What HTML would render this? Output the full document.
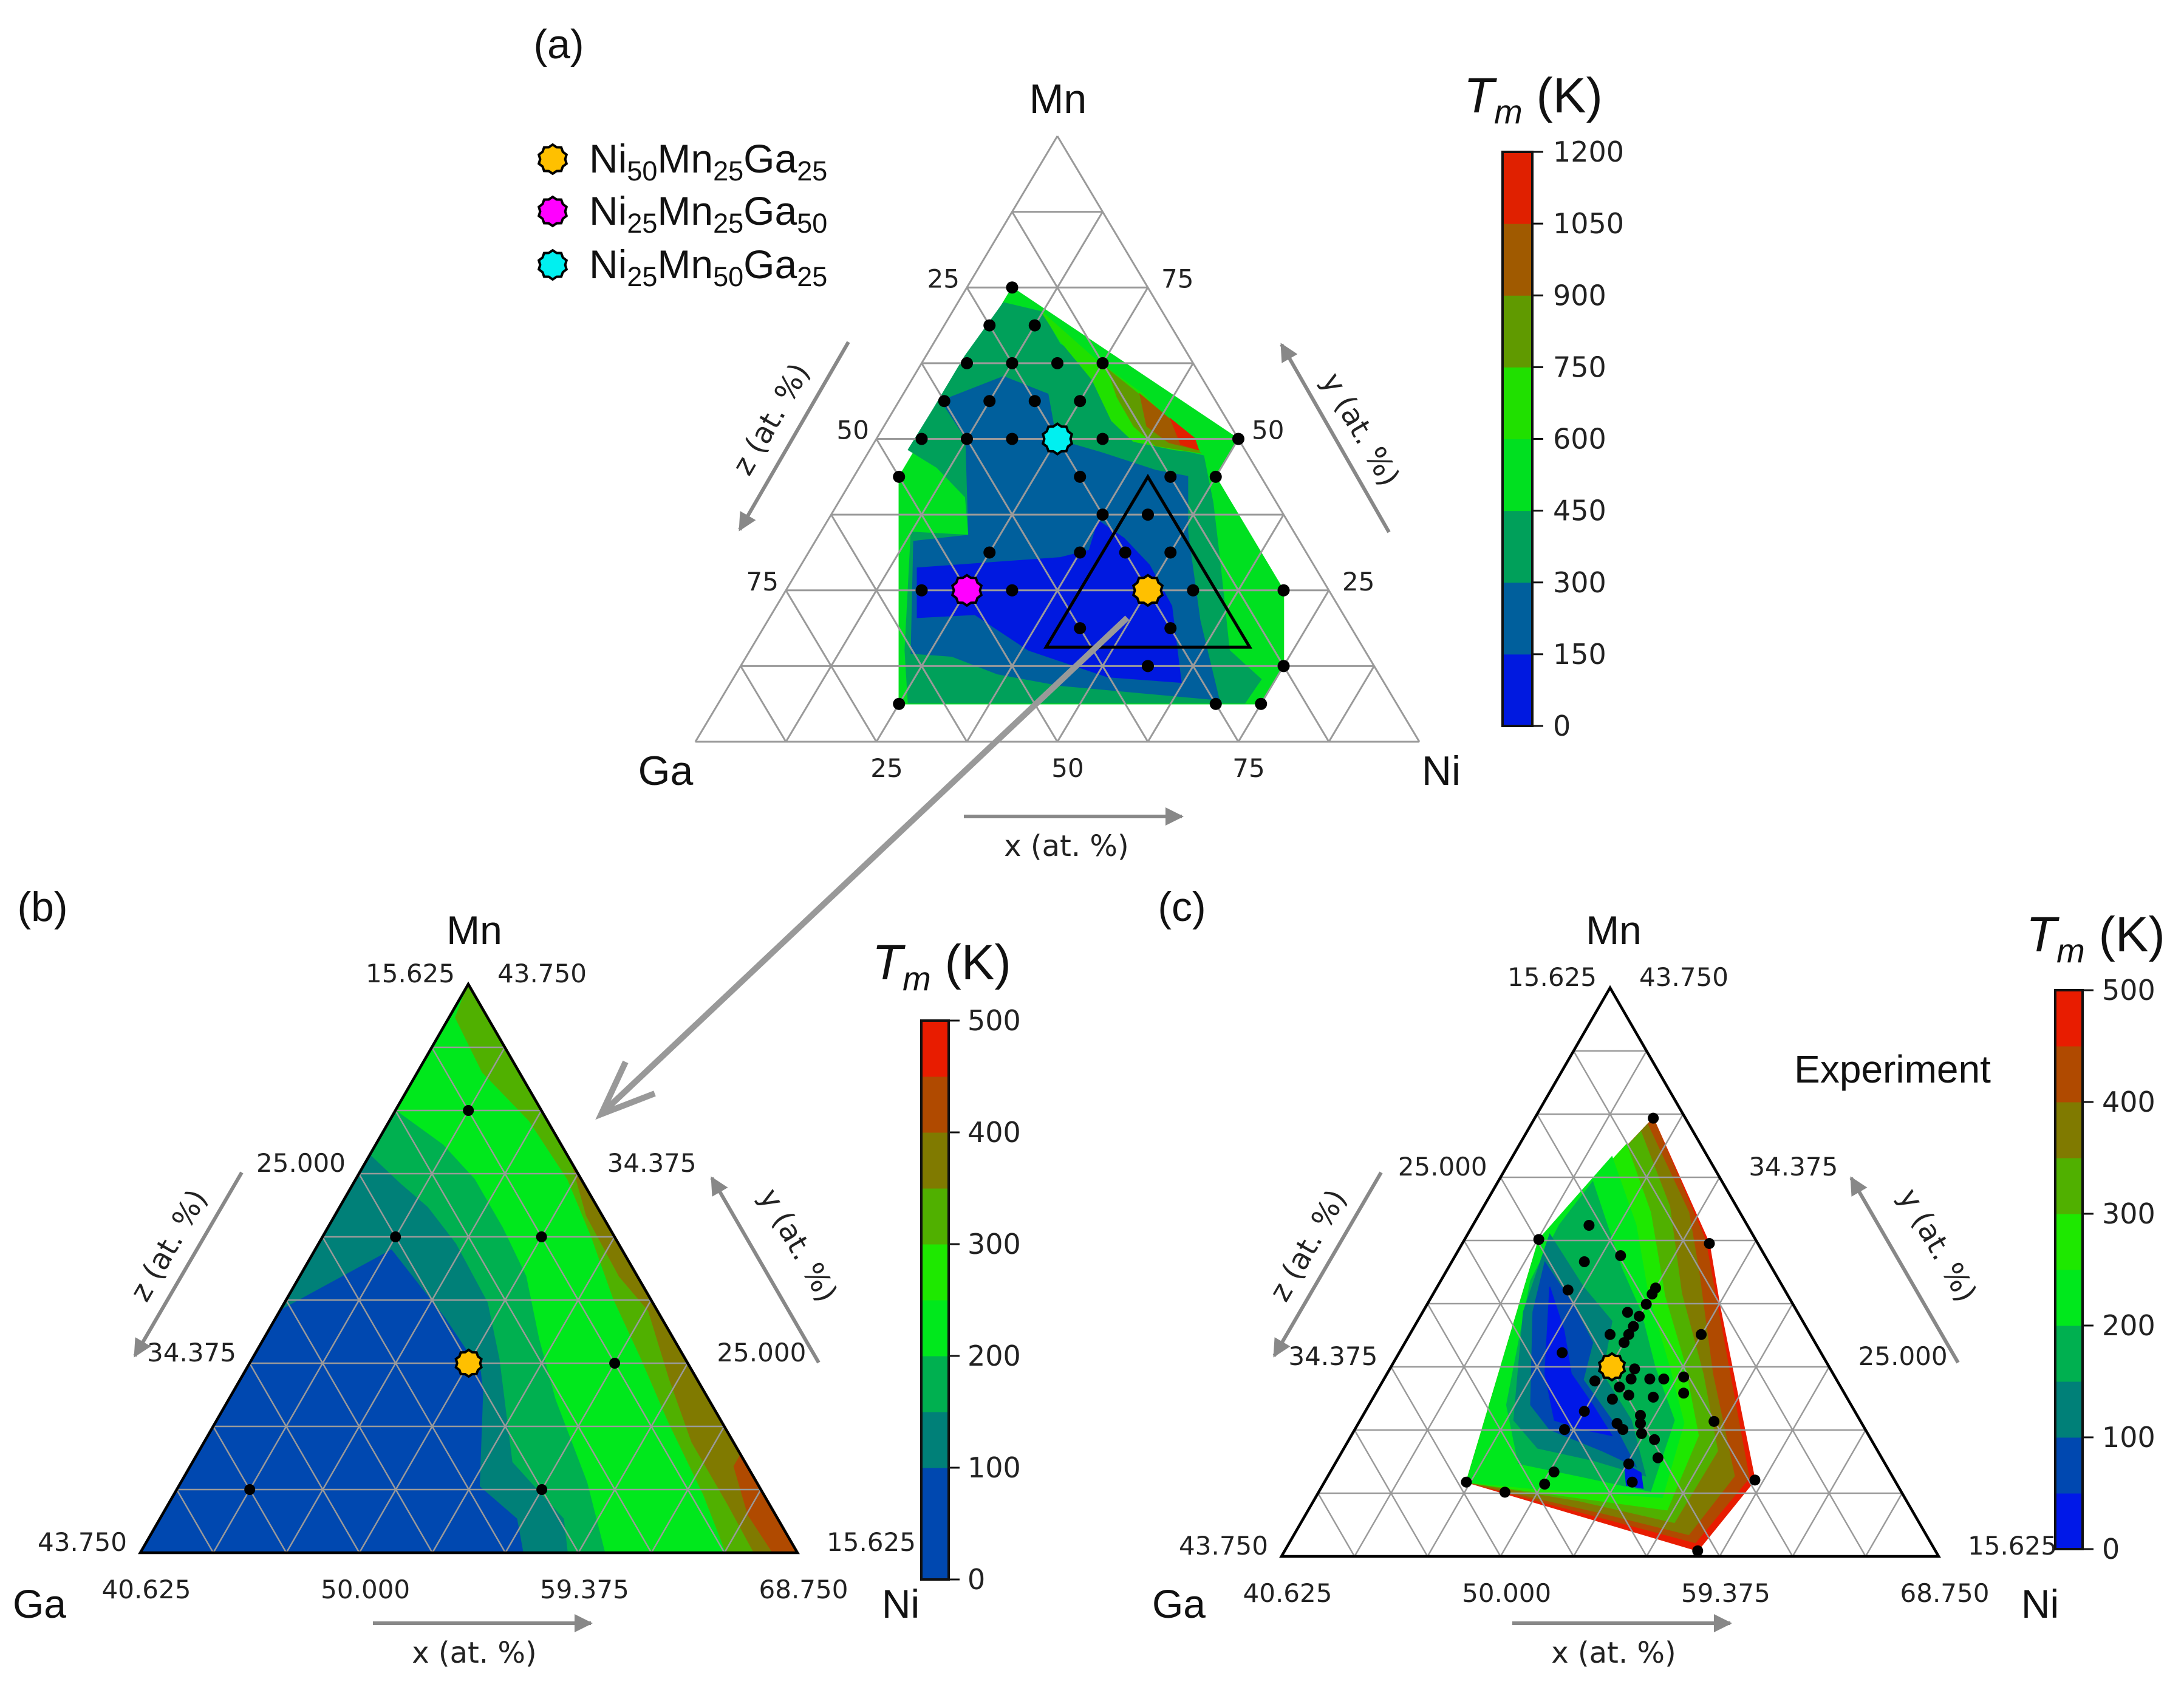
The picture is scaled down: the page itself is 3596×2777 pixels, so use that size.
<!DOCTYPE html>
<html><head><meta charset="utf-8"><style>
html,body{margin:0;padding:0;background:#fff;}
svg{display:block;}
.tk{font-family:"DejaVu Sans","Liberation Sans",sans-serif;fill:#222;}
.lb{font-family:"Liberation Sans","DejaVu Sans",sans-serif;fill:#111;}
</style></head><body>
<svg id="fig" xmlns="http://www.w3.org/2000/svg" width="3596" height="2777" viewBox="0 0 3596 2777">
<defs>
<marker id="ah" viewBox="0 0 10 10" refX="9" refY="5" markerWidth="5" markerHeight="5" orient="auto"><path d="M0,0 L10,5 L0,10 z" fill="#888"/></marker>
</defs>
</svg>
<script>
// ---------- DATA ----------
const aLevels = [0,150,300,450,600,750,900,1050,1200];
const aColors = ['#0019e0','#005f9c','#00a05a','#00e020','#20e000','#609a00','#a05a00','#e02000'];
const bcLevels = [0,50,100,150,200,250,300,350,400,450,500];
const bColors = ['#0048b0','#0048b0','#008078','#00b050','#00e81c','#1ee800','#50b000','#807a00','#b04a00','#e81c00'];
const cColors = ['#0018e8','#0048b0','#008078','#00b050','#00e81c','#1ee800','#50b000','#807a00','#b04a00','#e81c00'];
const aTickVals = [25,50,75];
const aTickLabels = ['25','50','75'];
const bcBottomVals = [40.625,50,59.375,68.75];
const bcBottomLabels = ['40.625','50.000','59.375','68.750'];
const bcLeftVals = [15.625,25,34.375,43.75];
const bcLeftLabels = ['15.625','25.000','34.375','43.750'];
const bcRightVals = [43.75,34.375,25,15.625];
const bcRightLabels = ['43.750','34.375','25.000','15.625'];
const aCbTicks = ['0','150','300','450','600','750','900','1050','1200'];
const bcCbTicks = ['0','100','200','300','400','500'];

// panel (a) dots: [Ni, Mn]
const aDots = [[6.25,75],[6.25,68.75],[12.5,68.75],[6.25,62.5],[12.5,62.5],[18.75,62.5],[25,62.5],
[6.25,56.25],[12.5,56.25],[18.75,56.25],[25,56.25],[6.25,50],[12.5,50],[18.75,50],[31.25,50],[50,50],
[6.25,43.75],[31.25,43.75],[43.75,43.75],[50,43.75],[37.5,37.5],[43.75,37.5],[25,31.25],[37.5,31.25],
[43.75,31.25],[50,31.25],[18.75,25],[31.25,25],[56.25,25],[68.75,25],[43.75,18.75],[56.25,18.75],
[56.25,12.5],[75,12.5],[25,6.25],[68.75,6.25],[75,6.25]];
const aSpecialNi = [50,25,25];
const aSpecialMn = [25,25,50];
const specialColors = ['#ffc000','#ff00ff','#00f0f0'];
const aContourLevels = [3,2,1,0,4,5,6,7];
const aContours = [
 [[6.25,75],[50,50],[50,43.75],[68.75,25],[75,12.5],[75,6.25],[25,6.25],[6.25,43.75]],
 [[6.3,72.5],[12.3,71.0],[17.5,65.7],[23.6,62.3],[28.6,55.9],[33.7,51.1],[39,49.1],[46.6,47.2],[51.8,39.4],[57.6,29.7],[66.2,15.1],[73,10.3],[72.7,6.4],[26.2,6.4],[21.4,15.1],[12.5,34.6],[20.7,34.1],[17.1,40.4],[10.7,45.3],[5.3,48.2],[5.4,55],[5.4,63.7]],
 [[6,56.4],[12.4,60.3],[20,57.4],[24.1,51.1],[27.6,49.1],[32.3,47.7],[41.2,44.8],[46.1,43.8],[50.7,34.6],[59.7,20],[68.9,6.9],[45.7,9.3],[36.1,11.2],[28.4,14.1],[22.5,14.6],[13.6,33.1],[20.7,34.1],[12.3,50.1],[6.2,55.9]],
 [[16.3,28.7],[35.2,30.4],[38.6,31.6],[37.4,36.5],[42.4,33.6],[48.1,29.2],[54.6,22.4],[62.2,9.8],[51.6,10.7],[38.5,15.1],[28.1,21],[20.4,20.5]],
 [[12.3,71.0],[24.3,62.7],[33.1,57.4],[45.9,47.7],[42.1,48.2],[35.7,49.6],[31,53],[24.9,59.8],[17.3,66.2]],
 [[26.2,61.5],[33.3,56.9],[45.9,47.7],[39.1,48.9],[34.5,52.1],[29.8,56.9]],
 [[32.7,57.4],[39.3,53],[45.4,48.2],[40.7,49.4],[36.3,52.1]],
 [[39,53.3],[43.9,50.1],[45.4,48.2],[42.5,49.1]]
];
const subTri = [[40.625,43.75],[40.625,15.625],[68.75,15.625]];

// panel (b)
const bDots = [[43.75,37.5],[43.75,31.25],[50,31.25],[56.25,25],[43.75,18.75],[56.25,18.75]];
const bSpecialNi = [50];
const bSpecialMn = [25];
const bContourLevels = [3,2,0,6,7,8];
const bContours = [
 [[40.625,37.5],[43.5,35.8],[45.7,34.1],[48.1,31.7],[50.3,29.3],[52.4,26.2],[54.6,23.2],[58.0,19.1],[60.5,15.625],[40.625,15.625]],
 [[40.625,35.3],[42.6,33.9],[44.4,32.7],[46.5,30.9],[49.3,28.0],[51.2,25.2],[54.3,20.1],[57.9,17.3],[58.9,15.625],[40.625,15.625]],
 [[40.625,27.6],[43.9,30.6],[47.9,27.2],[50.7,24.6],[51.3,23.6],[53.5,18.9],[55.9,17.3],[57.0,15.625],[40.625,15.625]],
 [[40.625,43.75],[40.9,42.1],[43.4,39.4],[46.6,37.0],[49.7,34.1],[52.1,31.3],[54.6,28.2],[57.3,25.2],[60.0,22.1],[63.3,18.5],[65.7,15.625],[68.75,15.625]],
 [[49.4,35.0],[51.4,32.3],[54.3,29.3],[56.4,27.6],[59.0,24.2],[61.5,21.1],[64.5,18.1],[66.9,15.625],[68.75,15.625]],
 [[63.9,20.5],[63.9,19.9],[65.7,17.5],[67.7,15.625],[68.75,15.625]]
];

// panel (c)
const cDots = [[45.7,37.3],[45.6,32.0],[43.8,31.3],[51.2,31.1],[47.7,30.5],[46.3,30.2],[46.3,28.8],[50.0,28.9],
[50.0,28.6],[50.0,28.1],[49.4,27.7],[50.0,27.5],[50.0,27.0],[49.2,26.6],[50.0,26.6],[53.1,26.6],[50.0,26.2],
[47.6,25.7],[51.1,24.9],[49.7,24.3],[51.2,24.4],[52.0,24.4],[52.6,24.4],[53.4,24.5],[50.9,24.0],[51.5,23.6],
[52.6,23.5],[53.8,23.7],[50.9,23.4],[50.0,22.8],[52.5,22.6],[55.8,22.3],[51.7,22.2],[52.7,22.2],[52.1,21.9],
[49.6,21.9],[53.0,21.7],[53.7,21.4],[54.3,20.5],[53.2,20.2],[50.2,19.8],[53.8,19.3],[50.1,19.2],[46.7,19.3],
[48.6,18.8],[59.0,19.4],[58.3,15.9]];
const cSpecialNi = [50.08];
const cSpecialMn = [25.0];
const cContourLevels = [9,8,7,6,5,4,3,2,1,0,0];
const cContours = [
 [[45.7,37.3],[51.2,31.1],[53.2,28.0],[59.0,19.4],[58.3,15.9],[46.7,19.3],[43.8,31.3]],
 [[45.7,37.3],[50.95,31.26],[52.9,28.3],[58.7,19.5],[58.0,16.3],[53.65,17.46],[46.7,19.3],[43.8,31.3]],
 [[45.6,37.0],[49.55,32.64],[51.34,29.88],[54.56,24.66],[58.02,19.6],[57.52,16.7],[53.29,17.76],[46.7,19.3],[43.8,31.3]],
 [[45.51,36.62],[48.58,32.94],[51.24,28.64],[54.15,24.66],[56.68,20.84],[56.6,17.3],[51.96,18.38],[46.7,19.3],[43.8,31.3]],
 [[45.2,36.0],[47.91,32.64],[50.59,28.5],[53.02,25.28],[55.48,21.6],[55.98,17.92],[50.78,18.68],[46.7,19.3],[43.8,31.3]],
 [[44.88,35.4],[47.6,32.02],[49.8,28.64],[52.57,24.96],[54.55,22.22],[55.47,18.54],[49.6,18.99],[46.7,19.3],[43.8,31.3]],
 [[44.68,34.16],[48.05,29.88],[49.96,27.72],[51.95,24.96],[54.07,22.36],[54.81,18.84],[51.35,19.6],[48.47,20.22],[46.51,23.12],[44.47,29.26],[44.32,32.02]],
 [[44.14,31.56],[46.87,28.96],[48.95,27.26],[49.84,24.66],[52.23,22.36],[54.22,19.6],[51.57,20.38],[48.91,20.98],[47.2,22.36],[44.93,27.72]],
 [[44.62,30.18],[46.92,28.04],[48.66,26.2],[49.17,24.36],[51.4,22.36],[53.58,20.06],[51.75,20.84],[48.97,21.9],[47.54,23.12],[45.34,27.72]],
 [[45.44,28.96],[47.13,26.8],[48.51,24.66],[50.2,23.12],[51.78,21.6],[50.4,21.9],[48.94,22.36],[47.38,24.66]],
 [[53.0,20.22],[53.94,19.76],[54.42,18.99],[53.63,19.14]]
];

// ---------- RENDER ----------
const svg = document.getElementById('fig');
const NS = 'http://www.w3.org/2000/svg';
function mk(tag, attrs, parent) {
  const e = document.createElementNS(NS, tag);
  for (const k in attrs) e.setAttribute(k, attrs[k]);
  (parent || svg).appendChild(e);
  return e;
}
function makeAxes(P) {
  const fp = (g, f) => [P.ga[0] + g*(P.ni[0]-P.ga[0]) + f*(P.mn[0]-P.ga[0]), P.ga[1] + g*(P.ni[1]-P.ga[1]) + f*(P.mn[1]-P.ga[1])];
  const t = (ni, mn) => fp((ni-P.ni0)/P.span, (mn-P.mn0)/P.span);
  return {fp, t};
}
const PA = {ga:[1145,1221], ni:[2337,1221], mn:[1741,224], ni0:0, mn0:0, span:100, n:8};
const PB = {ga:[231,2556], ni:[1313,2556], mn:[771,1620], ni0:40.625, mn0:15.625, span:28.125, n:9};
const PC = {ga:[2110,2562], ni:[3192,2562], mn:[2651,1626], ni0:40.625, mn0:15.625, span:28.125, n:9};
const AX = {a: makeAxes(PA), b: makeAxes(PB), c: makeAxes(PC)};

function ptsStr(arr, ax) { return arr.map(p => ax.t(p[0], p[1]).map(v => v.toFixed(1)).join(',')).join(' '); }

function drawContours(g, ax, contours, levels, colors, name) {
  contours.forEach((poly, i) => {
    const e = mk('polygon', {points: ptsStr(poly, ax), fill: colors[levels[i]], stroke: colors[levels[i]], 'stroke-width': 1.5}, g);
    
    
  });
}
function drawGrid(g, ax, n, width, border) {
  const i0 = border ? 0 : 1;
  for (let i = i0; i < n; i++) {
    const s = i / n;
    const segs = [[ax.fp(0, s), ax.fp(1-s, s)], [ax.fp(s, 0), ax.fp(s, 1-s)], [ax.fp(1-s, 0), ax.fp(0, 1-s)]];
    segs.forEach(sg => {
      const e = mk('line', {x1: sg[0][0], y1: sg[0][1], x2: sg[1][0], y2: sg[1][1], stroke: '#9a9a9a', 'stroke-width': width}, g);
      
      
    });
  }
}
function drawDots(g, ax, dots, r) {
  dots.forEach(d => {
    const p = ax.t(d[0], d[1]);
    const e = mk('circle', {cx: p[0], cy: p[1], r: r, fill: '#000'}, g);
    
    
  });
}
function starPts(cx, cy, r) {
  const pts = [];
  for (let k = 0; k < 20; k++) {
    const rr = (k % 2 === 0) ? r : r*0.86;
    const a = Math.PI*2*k/20 - Math.PI/2;
    pts.push((cx + rr*Math.cos(a)).toFixed(1) + ',' + (cy + rr*Math.sin(a)).toFixed(1));
  }
  return pts.join(' ');
}
function drawSpecial(g, ax, nis, mns, colors, r) {
  nis.forEach((ni, i) => {
    const p = ax.t(ni, mns[i]);
    const e = mk('polygon', {points: starPts(p[0], p[1], r), fill: colors[i], stroke: '#000', 'stroke-width': 4}, g);
    
    
  });
}
function text(g, x, y, s, cls, size, anchor, name, extra) {
  const e = mk('text', Object.assign({x: x, y: y, class: cls, 'font-size': size, 'text-anchor': anchor || 'middle'}, extra || {}), g);
  e.textContent = s;
  
  
  return e;
}
function arrowLine(g, x1, y1, x2, y2, name) {
  const e = mk('line', {x1, y1, x2, y2, stroke: '#888', 'stroke-width': 6, 'marker-end': 'url(#ah)'}, g);
  
  
}
function colorbar(g, x, y0, y1, w, colors, tickLabels, lx, name) {
  const nb = colors.length, h = (y1 - y0) / nb;
  colors.forEach((c, i) => {
    const e = mk('rect', {x: x, y: y1 - (i+1)*h, width: w, height: h + 0.5, fill: c}, g);
    
    
  });
  const fr = mk('rect', {x: x, y: y0, width: w, height: y1 - y0, fill: 'none', stroke: '#111', 'stroke-width': 4}, g);
  
  
  const nt = tickLabels.length - 1;
  tickLabels.forEach((s, i) => {
    const yy = y1 - i*(y1 - y0)/nt;
    const tl = mk('line', {x1: x + w, y1: yy, x2: x + w + 18, y2: yy, stroke: '#111', 'stroke-width': 3}, g);
    
    
    text(g, lx, yy + 16, s, 'tk', 46, 'start', name + '-tick-label');
  });
}
function tmLabel(g, x, y, name) {
  const e = mk('text', {x: x, y: y, class: 'lb', 'font-size': 82}, g);
  e.innerHTML = '<tspan font-style="italic">T</tspan><tspan font-style="italic" font-size="56" dy="18">m</tspan><tspan dy="-18"> (K)</tspan>';
  
  
}
function group(name) {
  const g = mk('g', {});
  
  
  return g;
}

// ===== Panel (a) =====
const ga = group('panel-a');
drawContours(ga, AX.a, aContours, aContourLevels, aColors, 'panel-a');
drawGrid(ga, AX.a, PA.n, 3, true);
const st = mk('polygon', {points: ptsStr(subTri, AX.a), fill: 'none', stroke: '#000', 'stroke-width': 5}, ga);


drawDots(ga, AX.a, aDots, 10);
// connector arrow
const ca = mk('line', {x1: 1856, y1: 1017, x2: 994, y2: 1830, stroke: '#999', 'stroke-width': 10}, ga);


const cah = mk('polyline', {points: '1030,1748 990,1834 1078,1800', fill: 'none', stroke: '#999', 'stroke-width': 10, 'stroke-linejoin': 'miter'}, ga);


drawSpecial(ga, AX.a, aSpecialNi, aSpecialMn, specialColors, 25);
aTickVals.forEach((v, i) => {
  let p = AX.a.t(v, 0); text(ga, p[0] + 17, p[1] + 58, aTickLabels[i], 'tk', 42, 'middle', 'x-tick-label');
  p = AX.a.t(0, 100 - v); text(ga, p[0] - 12, p[1], aTickLabels[i], 'tk', 42, 'end', 'z-tick-label');
  p = AX.a.t(100 - v, v); text(ga, p[0] + 22, p[1], aTickLabels[i], 'tk', 42, 'start', 'y-tick-label');
});
text(ga, 1742, 186, 'Mn', 'lb', 68, 'middle', 'vertex-label-mn');
text(ga, 1096, 1292, 'Ga', 'lb', 68, 'middle', 'vertex-label-ga');
text(ga, 2373, 1292, 'Ni', 'lb', 68, 'middle', 'vertex-label-ni');
text(ga, 920, 96, '(a)', 'lb', 68, 'middle', 'panel-label-a');
arrowLine(ga, 1587, 1344, 1946, 1344, 'x-axis-arrow');
text(ga, 1756, 1409, 'x (at. %)', 'tk', 48, 'middle', 'x-axis-title');
arrowLine(ga, 1397, 563, 1218, 872, 'z-axis-arrow');
text(ga, 1270, 706, 'z (at. %)', 'tk', 48, 'middle', 'z-axis-title', {transform: 'rotate(-60 1270 690)'});
arrowLine(ga, 2287, 876, 2110, 567, 'y-axis-arrow');
text(ga, 2240, 723, 'y (at. %)', 'tk', 48, 'middle', 'y-axis-title', {transform: 'rotate(60 2240 707)'});
// legend
const legendY = [262, 348, 436];
const legendSub = [['50','25','25'], ['25','25','50'], ['25','50','25']];
legendY.forEach((y, i) => {
  const m = mk('polygon', {points: starPts(910, y, 24), fill: specialColors[i], stroke: '#000', 'stroke-width': 4}, ga);
  
  
  const e = mk('text', {x: 970, y: y + 22, class: 'lb', 'font-size': 66}, ga);
  e.innerHTML = 'Ni<tspan font-size="45" dy="13">' + legendSub[i][0] + '</tspan><tspan dy="-13">Mn</tspan><tspan font-size="45" dy="13">' + legendSub[i][1] + '</tspan><tspan dy="-13">Ga</tspan><tspan font-size="45" dy="13">' + legendSub[i][2] + '</tspan>';
  
  
});
colorbar(ga, 2474, 250, 1195, 49, aColors, aCbTicks, 2557, 'colorbar-a');
tmLabel(ga, 2410, 185, 'colorbar-a-title');

// ===== Panels (b) and (c) =====
function panelBC(key, P, ax, contours, levels, colors, dots, sNi, sMn, cb, tm, lblDx, withExp) {
  const g = group('panel-' + key);
  const tri = [[P.ni0, P.mn0 + P.span], [P.ni0, P.mn0], [P.ni0 + P.span, P.mn0]];
  const gaMin = 100 - P.ni0 - P.span - P.mn0;
  if (key === 'b') {
    const base = mk('polygon', {points: ptsStr(tri, ax), fill: colors[4]}, g);
    
    
  }
  drawContours(g, ax, contours, levels, colors, 'panel-' + key);
  drawGrid(g, ax, P.n, 2.5, false);
  const o = mk('polygon', {points: ptsStr(tri, ax), fill: 'none', stroke: '#000', 'stroke-width': 4.5}, g);
  
  
  drawDots(g, ax, dots, 9);
  drawSpecial(g, ax, sNi, sMn, ['#ffc000'], 22);
  bcBottomVals.forEach((v, i) => { const p = ax.t(v, P.mn0); text(g, p[0] + 10, p[1] + 75, bcBottomLabels[i], 'tk', 42, 'middle', 'x-tick-label'); });
  bcLeftVals.forEach((v, i) => { const p = ax.t(P.ni0, 100 - P.ni0 - v); text(g, p[0] - 22, p[1] - 3, bcLeftLabels[i], 'tk', 42, 'end', 'z-tick-label'); });
  bcRightVals.forEach((v, i) => { const p = ax.t(100 - gaMin - v, v); text(g, p[0] + 48, p[1] - 3, bcRightLabels[i], 'tk', 42, 'start', 'y-tick-label'); });
  const dx = lblDx;
  text(g, 781 + dx, 1554, 'Mn', 'lb', 66, 'middle', 'vertex-label-mn');
  text(g, 65 + dx, 2663, 'Ga', 'lb', 66, 'middle', 'vertex-label-ga');
  text(g, 1483 + dx, 2663, 'Ni', 'lb', 66, 'middle', 'vertex-label-ni');
  text(g, 70 + dx, 1516, '(' + key + ')', 'lb', 68, 'middle', 'panel-label-' + key);
  arrowLine(g, 614 + dx, 2672, 973 + dx, 2672, 'x-axis-arrow');
  text(g, 781 + dx, 2737, 'x (at. %)', 'tk', 48, 'middle', 'x-axis-title');
  arrowLine(g, 398 + dx, 1930, 222 + dx, 2232, 'z-axis-arrow');
  text(g, 278 + dx, 2066, 'z (at. %)', 'tk', 48, 'middle', 'z-axis-title', {transform: 'rotate(-60 ' + (278 + dx) + ' 2050)'});
  arrowLine(g, 1348 + dx, 2243, 1172 + dx, 1939, 'y-axis-arrow');
  text(g, 1314 + dx, 2066, 'y (at. %)', 'tk', 48, 'middle', 'y-axis-title', {transform: 'rotate(60 ' + (1314 + dx) + ' 2050)'});
  colorbar(g, cb[0], cb[1], cb[2], 45, colors, bcCbTicks, cb[3], 'colorbar-' + key);
  tmLabel(g, tm[0], tm[1], 'colorbar-' + key + '-title');
  if (withExp) text(g, 3116, 1782, 'Experiment', 'lb', 64, 'middle', 'experiment-label');
}
panelBC('b', PB, AX.b, bContours, bContourLevels, bColors, bDots, bSpecialNi, bSpecialMn, [1517, 1680, 2600, 1593], [1436, 1612], 0, false);
panelBC('c', PC, AX.c, cContours, cContourLevels, cColors, cDots, cSpecialNi, cSpecialMn, [3384, 1630, 2550, 3461], [3336, 1566], 1876, true);
</script>
</body></html>
